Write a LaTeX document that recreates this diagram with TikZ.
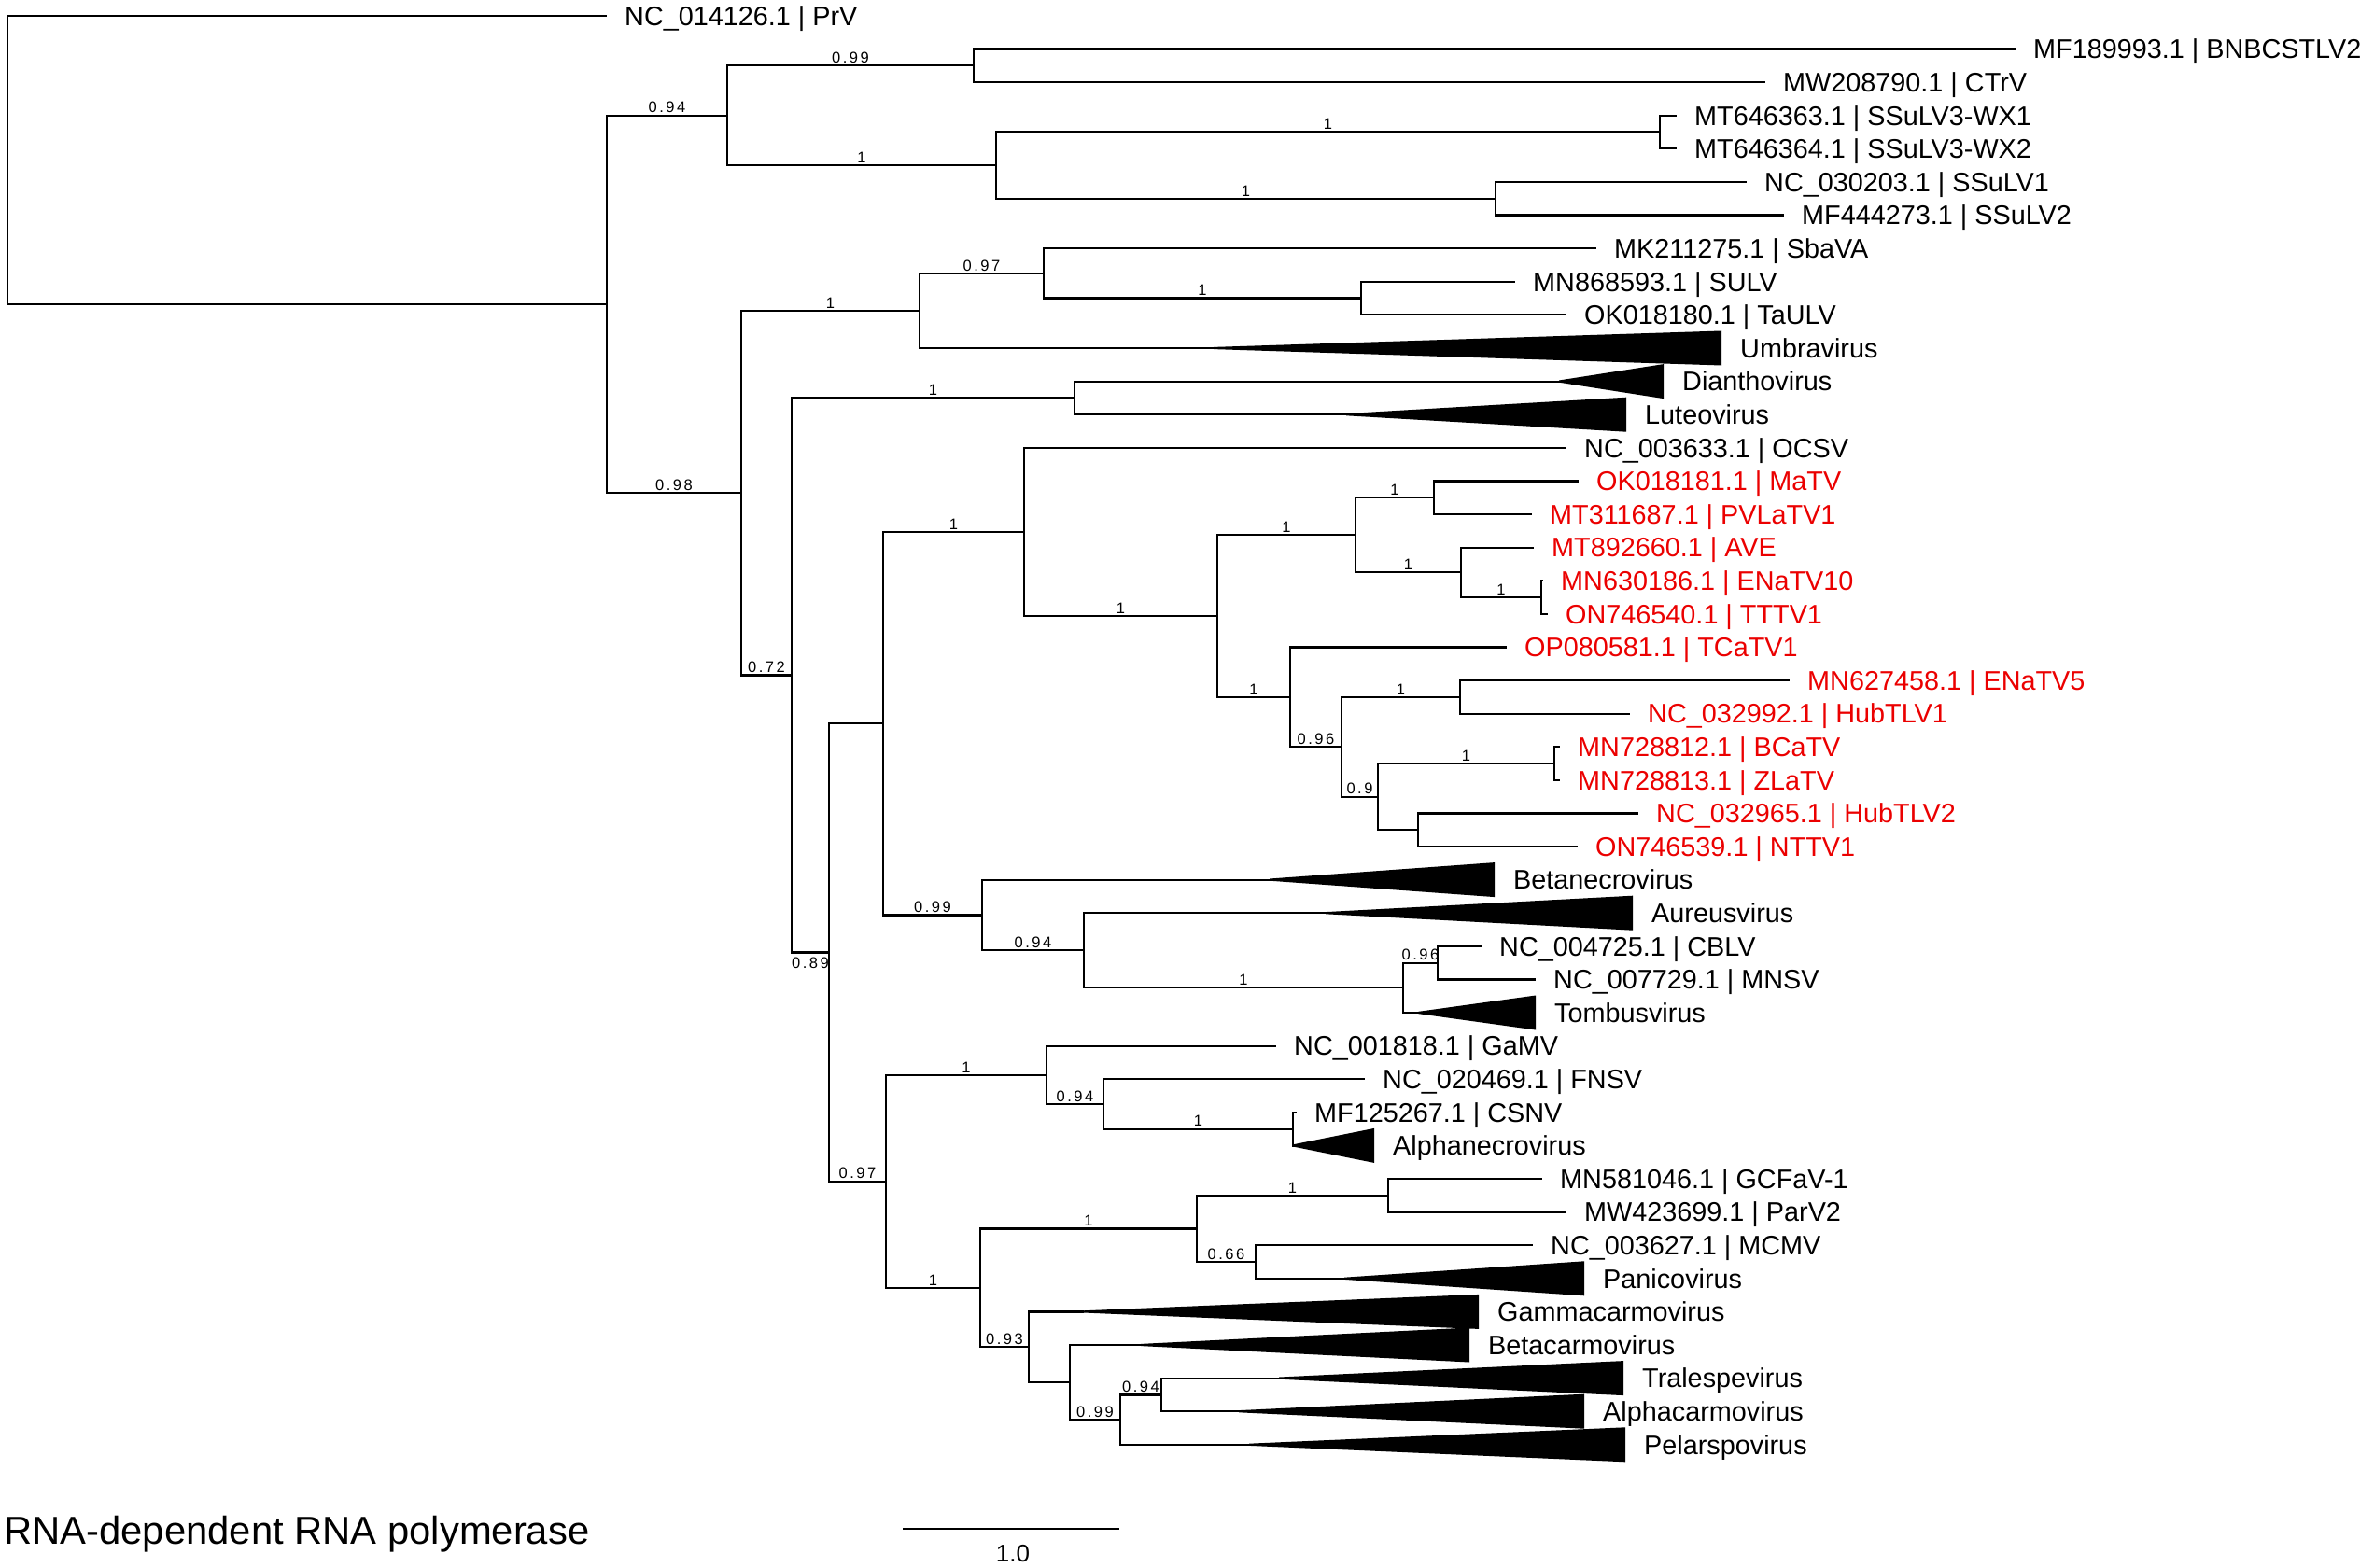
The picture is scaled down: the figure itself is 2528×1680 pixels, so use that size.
\documentclass[tikz,border=0pt]{standalone}
\usepackage{fontspec}
\setmainfont{Liberation Sans}
\newfontfamily\suppfam[LetterSpace=15]{Liberation Sans}
\usetikzlibrary{calc}
\definecolor{tipred}{RGB}{235,0,0}
\newcommand{\mytipfont}{\fontsize{28.8}{30}\selectfont}
\newcommand{\mysupfont}{\suppfam\fontsize{16.5}{18}\selectfont}
\newcommand{\cladetri}[2]{\fill ([yshift=1.1pt]#1) -- ([yshift=18.5pt]#2) -- ([yshift=-18.5pt]#2) -- ([yshift=-1.1pt]#1) -- cycle;}
\newcommand{\sv}[4]{\node[sup] (#4) at ($(#1|-#2)!0.5!(#2)$) {#3};}
\begin{document}
\begin{tikzpicture}[x=1pt,y=-1pt,
  br/.style={line width=2.2pt, line cap=rect},
  tiplab/.style={anchor=west, inner sep=0pt, text height=20.6pt, text depth=0pt, font=\mytipfont, xshift=20pt},
  redlab/.style={tiplab, text=tipred},
  sup/.style={anchor=south, inner sep=0pt, yshift=2.5pt, font=\mysupfont},
  supb/.style={anchor=north, inner sep=0pt, yshift=-5pt, font=\mysupfont}]
\useasboundingbox (0,0) rectangle (2528,1680);

% ---------- internal nodes ----------
\coordinate (R)  at (8,171.5);
\coordinate (N1) at (650,326);
\coordinate (B)  at (779,123.8);
\coordinate (C)  at (1043,70.4);
\coordinate (D)  at (1067,177.2);
\coordinate (E)  at (1778,141.6);
\coordinate (F)  at (1602,212.8);
\coordinate (K)  at (794,528.2);
\coordinate (H)  at (985,332.95);
\coordinate (I)  at (1118,292.9);
\coordinate (J)  at (1458,319.6);
\coordinate (L)  at (848,723.4);
\coordinate (M)  at (1151,426.4);
\coordinate (N)  at (888,1020.5);
\coordinate (O)  at (946,775.17);
\coordinate (Q)  at (1097,569.9);
\coordinate (T)  at (1304,660.0);
\coordinate (U)  at (1452,573.25);
\coordinate (W)  at (1536,533.2);
\coordinate (X)  at (1565,613.3);
\coordinate (Y)  at (1651,640);
\coordinate (V)  at (1382,746.8);
\coordinate (Z)  at (1437,800.2);
\coordinate (AA) at (1564,746.8);
\coordinate (AB) at (1476,853.6);
\coordinate (AC) at (1665,818);
\coordinate (AD) at (1519,889.2);
\coordinate (S)  at (1052,980.43);
\coordinate (AE) at (1161,1018.25);
\coordinate (AF) at (1503,1058.3);
\coordinate (AG) at (1540,1031.6);
\coordinate (P)  at (949,1265.8);
\coordinate (AH) at (1121,1151.75);
\coordinate (AJ) at (1182,1182.9);
\coordinate (AK) at (1385,1209.6);
\coordinate (AI) at (1050,1379.8);
\coordinate (AL) at (1282,1316.4);
\coordinate (AN) at (1487,1280.8);
\coordinate (AO) at (1345,1352);
\coordinate (AM) at (1102,1443.2);
\coordinate (AP) at (1146,1481.05);
\coordinate (AQ) at (1200,1521.1);
\coordinate (AR) at (1244,1494.4);

% ---------- tips (branch ends) ----------
\coordinate (t0)  at (649,17);
\coordinate (t1)  at (2158,52.6);
\coordinate (t2)  at (1890,88.2);
\coordinate (t3)  at (1795,123.8);
\coordinate (t4)  at (1795,159.4);
\coordinate (t5)  at (1870,195);
\coordinate (t6)  at (1910,230.6);
\coordinate (t7)  at (1709,266.2);
\coordinate (t8)  at (1622,301.8);
\coordinate (t9)  at (1677,337.4);
\coordinate (t10) at (1844,373);
\coordinate (t11) at (1782,408.6);
\coordinate (t12) at (1742,444.2);
\coordinate (t13) at (1677,479.8);
\coordinate (t14) at (1690,515.4);
\coordinate (t15) at (1640,551);
\coordinate (t16) at (1642,586.6);
\coordinate (t17) at (1652,622.2);
\coordinate (t18) at (1657,657.8);
\coordinate (t19) at (1613,693.4);
\coordinate (t20) at (1916,729);
\coordinate (t21) at (1745,764.6);
\coordinate (t22) at (1670,800.2);
\coordinate (t23) at (1670,835.8);
\coordinate (t24) at (1754,871.4);
\coordinate (t25) at (1689,907);
\coordinate (t26) at (1601,942.6);
\coordinate (t27) at (1749,978.2);
\coordinate (t28) at (1586,1013.8);
\coordinate (t29) at (1644,1049.4);
\coordinate (t30) at (1645,1085);
\coordinate (t31) at (1366,1120.6);
\coordinate (t32) at (1461,1156.2);
\coordinate (t33) at (1388,1191.8);
\coordinate (t34) at (1472,1227.4);
\coordinate (t35) at (1651,1263);
\coordinate (t36) at (1677,1298.6);
\coordinate (t37) at (1641,1334.2);
\coordinate (t38) at (1697,1369.8);
\coordinate (t39) at (1584,1405.4);
\coordinate (t40) at (1574,1441);
\coordinate (t41) at (1739,1476.6);
\coordinate (t42) at (1697,1512.2);
\coordinate (t43) at (1741,1547.8);

% ---------- collapsed clade apices ----------
\coordinate (a10) at (1300,373);
\coordinate (a11) at (1670,408.6);
\coordinate (a12) at (1442,444.2);
\coordinate (a26) at (1360,942.6);
\coordinate (a27) at (1420,978.2);
\coordinate (a30) at (1519,1085);
\coordinate (a34) at (1385,1227.4);
\coordinate (a38) at (1440,1369.8);
\coordinate (a39) at (1160,1405.4);
\coordinate (a40) at (1222,1441);
\coordinate (a41) at (1370,1476.6);
\coordinate (a42) at (1327,1512.2);
\coordinate (a43) at (1338,1547.8);

% ---------- branches ----------
\draw[br] (R) |- (t0);
\draw[br] (R) |- (N1);
\draw[br] (N1) |- (B);
\draw[br] (B) |- (C);
\draw[br] (C) |- (t1);
\draw[br] (C) |- (t2);
\draw[br] (B) |- (D);
\draw[br] (D) |- (E);
\draw[br] (E) |- (t3);
\draw[br] (E) |- (t4);
\draw[br] (D) |- (F);
\draw[br] (F) |- (t5);
\draw[br] (F) |- (t6);
\draw[br] (N1) |- (K);
\draw[br] (K) |- (H);
\draw[br] (H) |- (I);
\draw[br] (I) |- (t7);
\draw[br] (I) |- (J);
\draw[br] (J) |- (t8);
\draw[br] (J) |- (t9);
\draw[br] (H) |- (a10);
\draw[br] (K) |- (L);
\draw[br] (L) |- (M);
\draw[br] (M) |- (a11);
\draw[br] (M) |- (a12);
\draw[br] (L) |- (N);
\draw[br] (N) |- (O);
\draw[br] (O) |- (Q);
\draw[br] (Q) |- (t13);
\draw[br] (Q) |- (T);
\draw[br] (T) |- (U);
\draw[br] (U) |- (W);
\draw[br] (W) |- (t14);
\draw[br] (W) |- (t15);
\draw[br] (U) |- (X);
\draw[br] (X) |- (t16);
\draw[br] (X) |- (Y);
\draw[br] (Y) |- (t17);
\draw[br] (Y) |- (t18);
\draw[br] (T) |- (V);
\draw[br] (V) |- (t19);
\draw[br] (V) |- (Z);
\draw[br] (Z) |- (AA);
\draw[br] (AA) |- (t20);
\draw[br] (AA) |- (t21);
\draw[br] (Z) |- (AB);
\draw[br] (AB) |- (AC);
\draw[br] (AC) |- (t22);
\draw[br] (AC) |- (t23);
\draw[br] (AB) |- (AD);
\draw[br] (AD) |- (t24);
\draw[br] (AD) |- (t25);
\draw[br] (O) |- (S);
\draw[br] (S) |- (a26);
\draw[br] (S) |- (AE);
\draw[br] (AE) |- (a27);
\draw[br] (AE) |- (AF);
\draw[br] (AF) |- (AG);
\draw[br] (AG) |- (t28);
\draw[br] (AG) |- (t29);
\draw[br] (AF) |- (a30);
\draw[br] (N) |- (P);
\draw[br] (P) |- (AH);
\draw[br] (AH) |- (t31);
\draw[br] (AH) |- (AJ);
\draw[br] (AJ) |- (t32);
\draw[br] (AJ) |- (AK);
\draw[br] (AK) |- (t33);
\draw[br] (AK) |- (a34);
\draw[br] (P) |- (AI);
\draw[br] (AI) |- (AL);
\draw[br] (AL) |- (AN);
\draw[br] (AN) |- (t35);
\draw[br] (AN) |- (t36);
\draw[br] (AL) |- (AO);
\draw[br] (AO) |- (t37);
\draw[br] (AO) |- (a38);
\draw[br] (AI) |- (AM);
\draw[br] (AM) |- (a39);
\draw[br] (AM) |- (AP);
\draw[br] (AP) |- (a40);
\draw[br] (AP) |- (AQ);
\draw[br] (AQ) |- (AR);
\draw[br] (AR) |- (a41);
\draw[br] (AR) |- (a42);
\draw[br] (AQ) |- (a43);

% ---------- collapsed clades ----------
\cladetri{a10}{t10}
\cladetri{a11}{t11}
\cladetri{a12}{t12}
\cladetri{a26}{t26}
\cladetri{a27}{t27}
\cladetri{a30}{t30}
\cladetri{a34}{t34}
\cladetri{a38}{t38}
\cladetri{a39}{t39}
\cladetri{a40}{t40}
\cladetri{a41}{t41}
\cladetri{a42}{t42}
\cladetri{a43}{t43}

% ---------- tip labels ----------
\node[tiplab] (lab0)  at (t0)  {NC\_014126.1 | PrV};
\node[tiplab] (lab1)  at (t1)  {MF189993.1 | BNBCSTLV2};
\node[tiplab] (lab2)  at (t2)  {MW208790.1 | CTrV};
\node[tiplab] (lab3)  at (t3)  {MT646363.1 | SSuLV3-WX1};
\node[tiplab] (lab4)  at (t4)  {MT646364.1 | SSuLV3-WX2};
\node[tiplab] (lab5)  at (t5)  {NC\_030203.1 | SSuLV1};
\node[tiplab] (lab6)  at (t6)  {MF444273.1 | SSuLV2};
\node[tiplab] (lab7)  at (t7)  {MK211275.1 | SbaVA};
\node[tiplab] (lab8)  at (t8)  {MN868593.1 | SULV};
\node[tiplab] (lab9)  at (t9)  {OK018180.1 | TaULV};
\node[tiplab] (lab10) at (t10) {Umbravirus};
\node[tiplab] (lab11) at (t11) {Dianthovirus};
\node[tiplab] (lab12) at (t12) {Luteovirus};
\node[tiplab] (lab13) at (t13) {NC\_003633.1 | OCSV};
\node[redlab] (lab14) at (t14) {OK018181.1 | MaTV};
\node[redlab] (lab15) at (t15) {MT311687.1 | PVLaTV1};
\node[redlab] (lab16) at (t16) {MT892660.1 | AVE};
\node[redlab] (lab17) at (t17) {MN630186.1 | ENaTV10};
\node[redlab] (lab18) at (t18) {ON746540.1 | TTTV1};
\node[redlab] (lab19) at (t19) {OP080581.1 | TCaTV1};
\node[redlab] (lab20) at (t20) {MN627458.1 | ENaTV5};
\node[redlab] (lab21) at (t21) {NC\_032992.1 | HubTLV1};
\node[redlab] (lab22) at (t22) {MN728812.1 | BCaTV};
\node[redlab] (lab23) at (t23) {MN728813.1 | ZLaTV};
\node[redlab] (lab24) at (t24) {NC\_032965.1 | HubTLV2};
\node[redlab] (lab25) at (t25) {ON746539.1 | NTTV1};
\node[tiplab] (lab26) at (t26) {Betanecrovirus};
\node[tiplab] (lab27) at (t27) {Aureusvirus};
\node[tiplab] (lab28) at (t28) {NC\_004725.1 | CBLV};
\node[tiplab] (lab29) at (t29) {NC\_007729.1 | MNSV};
\node[tiplab] (lab30) at (t30) {Tombusvirus};
\node[tiplab] (lab31) at (t31) {NC\_001818.1 | GaMV};
\node[tiplab] (lab32) at (t32) {NC\_020469.1 | FNSV};
\node[tiplab] (lab33) at (t33) {MF125267.1 | CSNV};
\node[tiplab] (lab34) at (t34) {Alphanecrovirus};
\node[tiplab] (lab35) at (t35) {MN581046.1 | GCFaV-1};
\node[tiplab] (lab36) at (t36) {MW423699.1 | ParV2};
\node[tiplab] (lab37) at (t37) {NC\_003627.1 | MCMV};
\node[tiplab] (lab38) at (t38) {Panicovirus};
\node[tiplab] (lab39) at (t39) {Gammacarmovirus};
\node[tiplab] (lab40) at (t40) {Betacarmovirus};
\node[tiplab] (lab41) at (t41) {Tralespevirus};
\node[tiplab] (lab42) at (t42) {Alphacarmovirus};
\node[tiplab] (lab43) at (t43) {Pelarspovirus};

% ---------- support values ----------
\sv{N1}{B}{0.94}{s1}
\sv{B}{C}{0.99}{s2}
\sv{B}{D}{1}{s3}
\sv{D}{E}{1}{s4}
\sv{D}{F}{1}{s5}
\sv{N1}{K}{0.98}{s6}
\sv{K}{H}{1}{s7}
\sv{H}{I}{0.97}{s8}
\sv{I}{J}{1}{s9}
\sv{K}{L}{0.72}{s10}
\sv{L}{M}{1}{s11}
\node[supb] (s12) at ($(L|-N)!0.5!(N)$) {0.89};
\sv{N}{P}{0.97}{s13}
\sv{O}{Q}{1}{s14}
\sv{Q}{T}{1}{s15}
\sv{T}{U}{1}{s16}
\sv{U}{W}{1}{s17}
\sv{U}{X}{1}{s18}
\sv{X}{Y}{1}{s19}
\sv{T}{V}{1}{s20}
\sv{V}{Z}{0.96}{s21}
\sv{Z}{AA}{1}{s22}
\sv{Z}{AB}{0.9}{s23}
\sv{AB}{AC}{1}{s24}
\sv{O}{S}{0.99}{s25}
\sv{S}{AE}{0.94}{s26}
\sv{AE}{AF}{1}{s27}
\sv{AF}{AG}{0.96}{s28}
\sv{P}{AH}{1}{s29}
\sv{AH}{AJ}{0.94}{s30}
\sv{AJ}{AK}{1}{s31}
\sv{P}{AI}{1}{s32}
\sv{AI}{AL}{1}{s33}
\sv{AL}{AN}{1}{s34}
\sv{AL}{AO}{0.66}{s35}
\sv{AI}{AM}{0.93}{s36}
\sv{AP}{AQ}{0.99}{s37}
\sv{AQ}{AR}{0.94}{s38}

% ---------- scale bar and caption ----------
\coordinate (sb1) at (968,1638);
\coordinate (sb2) at (1198,1638);
\draw[br] (sb1) -- (sb2);
\node[inner sep=0pt, font=\fontsize{26}{28}\selectfont] (sbl) at (1085,1665) {1.0};
\node[anchor=base west, inner sep=0pt, font=\fontsize{41.8}{44}\selectfont] (cap) at (4,1654) {RNA-dependent RNA polymerase};
\end{tikzpicture}
\end{document}
